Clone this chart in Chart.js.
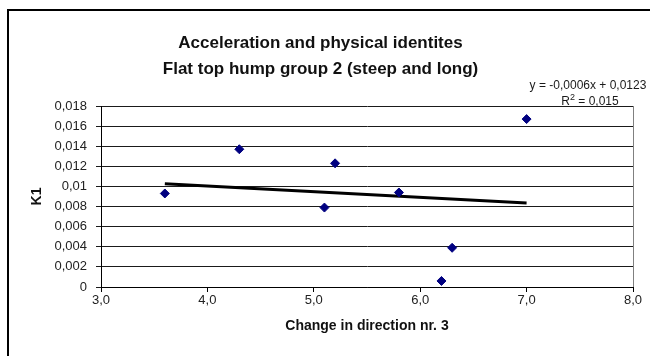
<!DOCTYPE html>
<html>
<head>
<meta charset="utf-8">
<script src="https://cdn.jsdelivr.net/npm/chart.js@4/dist/chart.umd.min.js"></script>
<style>
  html, body { margin: 0; padding: 0; background: #ffffff; }
  #wrap { width: 650px; height: 356px; }
</style>
</head>
<body>
<div id="wrap"><canvas id="c" width="650" height="356"></canvas></div>
<script>
// Measured change in direction (x) and K1 acceleration coefficient (y)
const changeInDirection = [3.6, 4.3, 5.1, 5.2, 5.8, 6.2, 6.3, 7.0];
const k1Values = [0.0093, 0.0137, 0.0079, 0.0123, 0.0094, 0.0006, 0.0039, 0.0167];
const xTicks = [3, 4, 5, 6, 7, 8];
const yTicks = [0, 0.002, 0.004, 0.006, 0.008, 0.01, 0.012, 0.014, 0.016, 0.018];
const titleLines = ['Acceleration and physical identites', 'Flat top hump group 2 (steep and long)'];

// Least-squares linear trend through the measurements
function linearFit(xs, ys) {
  const n = xs.length;
  const mx = xs.reduce((a, b) => a + b, 0) / n;
  const my = ys.reduce((a, b) => a + b, 0) / n;
  let sxy = 0, sxx = 0, syy = 0;
  for (let i = 0; i < n; i++) {
    sxy += (xs[i] - mx) * (ys[i] - my);
    sxx += (xs[i] - mx) ** 2;
    syy += (ys[i] - my) ** 2;
  }
  const slope = sxy / sxx;
  return { slope, intercept: my - slope * mx, r2: (sxy * sxy) / (sxx * syy) };
}
const fit = linearFit(changeInDirection, k1Values);
const xMin = Math.min(...changeInDirection), xMax = Math.max(...changeInDirection);
const trendPoints = [xMin, xMax].map(x => ({ x, y: fit.slope * x + fit.intercept }));

const comma = s => s.replace('.', ',');
const signed = (v, d) => (v < 0 ? '-' : '') + comma(Math.abs(v).toFixed(d));
const eqText = 'y = ' + signed(fit.slope, 4) + 'x ' + (fit.intercept < 0 ? '- ' : '+ ') + comma(Math.abs(fit.intercept).toFixed(4));
const r2Value = comma(fit.r2.toFixed(3));

const FONT = "'Liberation Sans', Arial, sans-serif";

// Outer chart frame, plot border and trend equation
const decorations = {
  id: 'decorations',
  beforeDraw(chart) {
    const { ctx } = chart;
    ctx.save();
    ctx.strokeStyle = '#000000';
    ctx.lineWidth = 2;
    ctx.beginPath();
    ctx.moveTo(8, 356);
    ctx.lineTo(8, 10);
    ctx.lineTo(650, 10);
    ctx.stroke();
    ctx.restore();
  },
  afterDatasetsDraw(chart) {
    const { ctx, chartArea: a } = chart;
    ctx.save();
    ctx.strokeStyle = '#808080';
    ctx.lineWidth = 1;
    ctx.beginPath();
    ctx.moveTo(Math.round(a.right) + 0.5, a.top);
    ctx.lineTo(Math.round(a.right) + 0.5, a.bottom);
    ctx.stroke();

    // trendline equation and R²
    const cx = 588;
    ctx.fillStyle = '#1a1a1a';
    ctx.textBaseline = 'middle';
    ctx.font = '12px ' + FONT;
    ctx.textAlign = 'center';
    ctx.fillText(eqText, cx, 86);

    const pre = 'R', post = ' = ' + r2Value;
    ctx.font = '12px ' + FONT;
    const wPre = ctx.measureText(pre).width;
    const wPost = ctx.measureText(post).width;
    ctx.font = '9px ' + FONT;
    const wSup = ctx.measureText('2').width;
    let x = cx + 2 - (wPre + wSup + wPost) / 2;
    ctx.textAlign = 'left';
    ctx.font = '12px ' + FONT;
    ctx.fillText(pre, x, 102);
    x += wPre;
    ctx.font = '9px ' + FONT;
    ctx.fillText('2', x, 98);
    x += wSup;
    ctx.font = '12px ' + FONT;
    ctx.fillText(post, x, 102);
    ctx.restore();
  }
};

new Chart(document.getElementById('c'), {
  type: 'scatter',
  data: {
    datasets: [
      {
        label: 'K1',
        data: changeInDirection.map((x, i) => ({ x, y: k1Values[i] })),
        pointStyle: 'rectRot',
        pointRadius: 4.5,
        pointHoverRadius: 4.5,
        backgroundColor: '#000080',
        borderColor: '#000080',
        borderWidth: 1,
        order: 1
      },
      {
        type: 'line',
        label: 'Linear trend',
        data: trendPoints,
        borderColor: '#000000',
        borderWidth: 3,
        pointRadius: 0,
        fill: false,
        order: 2
      }
    ]
  },
  options: {
    responsive: false,
    animation: false,
    events: [],
    layout: { padding: { left: 8, right: 17, top: 0, bottom: 0 } },
    plugins: {
      legend: { display: false },
      tooltip: { enabled: false },
      title: {
        display: true,
        text: titleLines,
        color: '#111111',
        font: { family: FONT, size: 17, weight: 'bold', lineHeight: 1.5 },
        padding: { top: 31, bottom: 24 }
      }
    },
    scales: {
      x: {
        type: 'linear',
        min: xTicks[0],
        max: xTicks[xTicks.length - 1],
        afterBuildTicks: s => { s.ticks = xTicks.map(v => ({ value: v })); },
        afterFit: s => { s.height = 69; },
        ticks: {
          color: '#222222',
          font: { family: FONT, size: 13 },
          padding: 1,
          maxRotation: 0,
          callback: v => comma(Number(v).toFixed(1))
        },
        grid: { drawOnChartArea: false, drawTicks: true, tickLength: 5, color: '#000000' },
        border: { display: true, color: '#000000', width: 1 },
        title: {
          display: true,
          text: 'Change in direction nr. 3',
          color: '#111111',
          font: { family: FONT, size: 14, weight: 'bold', lineHeight: 1.2 },
          padding: { top: 0, bottom: 21.6 }
        }
      },
      y: {
        type: 'linear',
        min: yTicks[0],
        max: yTicks[yTicks.length - 1],
        afterBuildTicks: s => { s.ticks = yTicks.map(v => ({ value: v })); },
        afterFit: s => { s.width = 93; },
        ticks: {
          color: '#222222',
          font: { family: FONT, size: 13 },
          padding: 9,
          callback: v => comma(String(Number(Number(v).toFixed(3))))
        },
        grid: { color: '#1a1a1a', lineWidth: 1, drawTicks: true, tickLength: 5 },
        border: { display: true, color: '#000000', width: 1 },
        title: {
          display: true,
          text: 'K1',
          color: '#111111',
          font: { family: FONT, size: 14, weight: 'bold', lineHeight: 1.2 },
          padding: { top: 20.6, bottom: 0 }
        }
      }
    }
  },
  plugins: [decorations]
});
</script>
</body>
</html>
